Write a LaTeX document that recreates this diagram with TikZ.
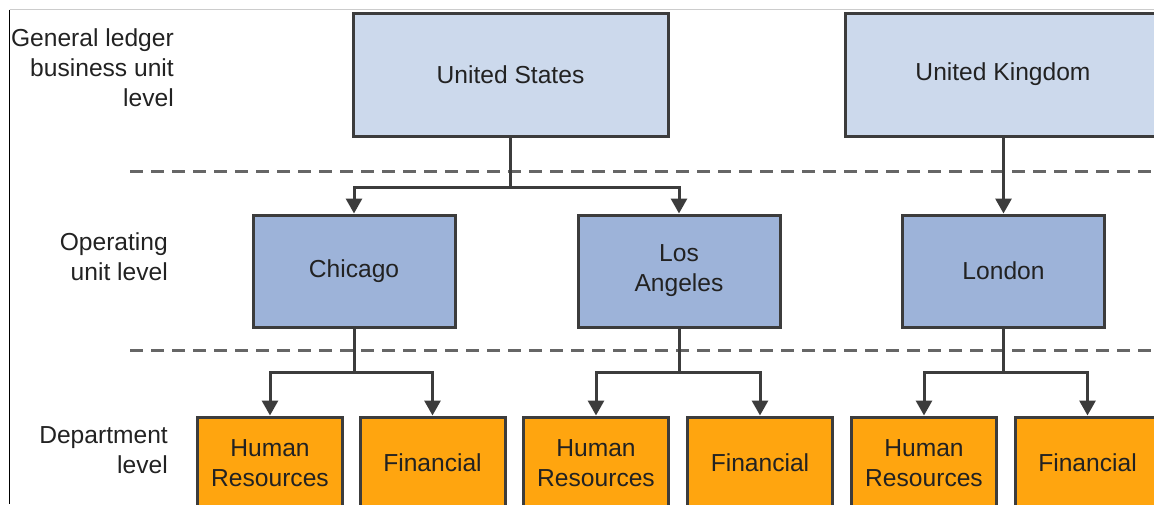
\documentclass[tikz,border=0pt]{standalone}
\usepackage{fontspec}
\setmainfont{Liberation Sans}
\usetikzlibrary{arrows.meta}
\definecolor{glblue}{HTML}{CCD9EC}
\definecolor{opblue}{HTML}{9DB3D9}
\definecolor{deporange}{HTML}{FFA50F}
\definecolor{edge}{HTML}{3C3C3C}
\definecolor{txt}{HTML}{222222}
\definecolor{dashgray}{HTML}{666666}
\tikzset{
  box/.style={draw=edge, line width=3pt, text=txt, align=center, inner sep=0pt,
    font=\fontsize{24.6}{30}\selectfont},
  glbox/.style={box, fill=glblue, minimum width=315pt, minimum height=123pt},
  opbox/.style={box, fill=opblue, minimum width=202pt, minimum height=112pt},
  depbox/.style={box, fill=deporange, minimum width=145pt, minimum height=92pt},
  lvl/.style={text=txt, align=right, anchor=east, inner sep=0pt,
    font=\fontsize{24.6}{30}\selectfont},
  conn/.style={draw=edge, line width=3pt},
  arr/.style={conn, -{Triangle[width=16pt,length=15pt]}},
  sep/.style={draw=dashgray, line width=3pt, dash pattern=on 13pt off 8pt}
}
\begin{document}
\begin{tikzpicture}[x=1pt,y=-1pt]
\useasboundingbox (0,0) rectangle (1154,504);
\clip (0,0) rectangle (1154,504);
% frame fragments
\draw[draw=black!20, line width=1pt] (9.5,9.5) -- (1154,9.5);
\draw[draw=black, line width=1.2pt] (9.5,9.5) -- (9.5,504);
% separators
\coordinate (s1a) at (130,171);
\coordinate (s1b) at (1154,171);
\coordinate (s2a) at (130,350);
\coordinate (s2b) at (1154,350);
\draw[sep] (s1a) -- (s1b);
\draw[sep] (s2a) -- (s2b);
% level labels
\node[lvl] (l1) at (174,68) {General ledger\\business unit\\level};
\node[lvl] (l2) at (168,257) {Operating\\unit level};
\node[lvl] (l3) at (168,450) {Department\\level};
% GL business units
\node[glbox] (us) at (510.5,74.5) {United States};
\node[glbox] (uk) at (1003,74.5) {United Kingdom};
% operating units
\node[opbox] (chi) at (354,271) {Chicago};
\node[opbox] (la) at (679,271) {Los\\Angeles};
\node[opbox] (lon) at (1003.5,271) {London};
% departments
\node[depbox] (hr1) at (270,463) {Human\\Resources};
\node[depbox] (fi1) at (432.5,463) {Financial};
\node[depbox] (hr2) at (596,463) {Human\\Resources};
\node[depbox] (fi2) at (760,463) {Financial};
\node[depbox] (hr3) at (924,463) {Human\\Resources};
\node[depbox] (fi3) at (1087.5,463) {Financial};
% connectors
\coordinate (usj) at (us.south |- 0,187);
\draw[conn] (us.south) -- (usj);
\draw[arr] (usj) -| (chi.north);
\draw[arr] (usj) -| (la.north);
\draw[arr] (uk.south -| lon.north) -- (lon.north);
\coordinate (chij) at (chi.south |- 0,372);
\coordinate (laj) at (la.south |- 0,372);
\coordinate (lonj) at (lon.south |- 0,372);
\draw[conn] (chi.south) -- (chij);
\draw[conn] (la.south) -- (laj);
\draw[conn] (lon.south) -- (lonj);
\draw[arr] (chij) -| (hr1.north);
\draw[arr] (chij) -| (fi1.north);
\draw[arr] (laj) -| (hr2.north);
\draw[arr] (laj) -| (fi2.north);
\draw[arr] (lonj) -| (hr3.north);
\draw[arr] (lonj) -| (fi3.north);
\end{tikzpicture}
\end{document}
